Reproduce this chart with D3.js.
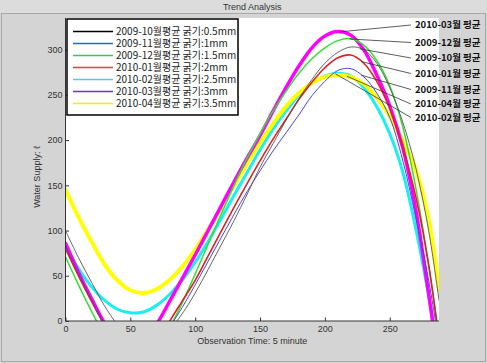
<!DOCTYPE html>
<html><head><meta charset="utf-8">
<script src="https://cdn.jsdelivr.net/npm/d3@7"></script>
<style>
html,body{margin:0;padding:0;background:#d4d4d4;}
svg{display:block;}
</style></head>
<body>
<svg id="chart" width="487" height="363"></svg>
<script>
// ---------- DATA ----------
const xValues = [0,10,20,30,40,50,60,70,80,90,100,110,120,130,140,150,160,170,180,190,200,210,220,230,240,250,260,270,280,288];
const s2009_10 = [100,70,43,17,-4,-20,-26,-22,-10,8,31,57,84,111,140,170,196,222,246,267,285,297,303,300,285,258,220,170,100,23];
const s2009_11 = [84,53,24,-3,-25,-38,-38,-25,-7,15,40,66,92,118,143,166,188,208,228,249,265,277,279,270,252,225,178,115,45,-25];
const s2009_12 = [71,40,11,-16,-38,-50,-47,-32,-8,20,52,85,118,150,180,207,232,254,274,290,302,310,312,305,288,260,215,148,62,-20];
const s2010_01 = [80,50,22,-4,-25,-38,-38,-25,-1,22,45,72,99,126,152,177,201,223,245,264,280,291,294,285,265,235,192,138,62,-20];
const s2010_02 = [82,58,38,23,13,9,10,17,29,45,65,88,113,139,164,189,212,232,250,263,271,274,271,258,237,207,165,103,28,-40];
const s2010_03 = [86,54,25,-2,-22,-30,-22,-4,21,47,73,100,127,154,180,205,232,258,282,302,315,320,316,300,272,238,192,124,30,-50];
const s2010_04 = [145,115,88,63,45,34,31,35,45,60,79,101,125,150,174,197,218,237,252,263,270,272,270,262,247,226,199,168,112,34];

const legendLabels = ["2009-10월평균 굵기:0.5mm","2009-11월평균 굵기:1mm","2009-12월평균 굵기:1.5mm","2010-01월평균 굵기:2mm","2010-02월평균 굵기:2.5mm","2010-03월평균 굵기:3mm","2010-04월평균 굵기:3.5mm"];
const seriesValues = [s2009_10,s2009_11,s2009_12,s2010_01,s2010_02,s2010_03,s2010_04];

const xTicks = [0,50,100,150,200,250];
const yTicks = [0,50,100,150,200,250,300];

const annotLabels = ["2010-03월 평균","2009-12월 평균","2009-10월 평균","2010-01월 평균","2009-11월 평균","2010-04월 평균","2010-02월 평균"];
const annotSeries = [5,2,0,3,1,6,4];
const annotAtX = [211,219,227,228,228,217,208];

const titleText = "Trend Analysis";
const xLabel = "Observation Time: 5 minute";
const yLabel = "Water Supply: ℓ";

// ---------- STYLES / LAYOUT ----------
const legendColors = ["#000000","#1f6fbf","#3cc060","#f03838","#5cc4e8","#6a3ab8","#f2f200"];
const plotColors   = ["#555555","#4848e0","#33e033","#e02020","#18f0f0","#ff00ff","#ffff00"];
const plotWidths   = [0.9,1,1.5,1.6,3,3.5,4];
const drawOrder    = [4,6,5,2,3,1,0];
const annotY = [25,42.5,58,73.5,89.5,104,117.5];

const W = 487, H = 363;
const m = {left:65.5, right:439, top:18, bottom:321};

const svg = d3.select("#chart");

// figure background
svg.append("rect").attr("x",0).attr("y",0).attr("width",W).attr("height",H).attr("fill","#d4d4d4");
svg.append("rect").attr("x",0).attr("y",0).attr("width",W).attr("height",13).attr("fill","#dcdcdc");
svg.append("line").attr("x1",2).attr("x2",W-2).attr("y1",13.5).attr("y2",13.5).attr("stroke","#bdbdbd");
svg.append("rect").attr("x",1.5).attr("y",13.5).attr("width",W-3).attr("height",H-15).attr("fill","none").attr("stroke","#a8a8a8");

svg.append("text").attr("x",(m.left+m.right)/2).attr("y",9.5)
  .attr("text-anchor","middle").attr("font-family","Liberation Sans, Arial, sans-serif")
  .attr("font-size",9).attr("fill","#333").text(titleText);

const x = d3.scaleLinear().domain([0,288]).range([m.left,m.right]);
const y = d3.scaleLinear().domain([0,335]).range([m.bottom,m.top]);

// axes background
svg.append("rect").attr("x",m.left).attr("y",m.top).attr("width",m.right-m.left).attr("height",m.bottom-m.top).attr("fill","#fff");

svg.append("defs").append("clipPath").attr("id","clip")
  .append("rect").attr("x",m.left).attr("y",m.top).attr("width",m.right-m.left).attr("height",m.bottom-m.top);

const line = d3.line().x((d,i)=>x(xValues[i])).y(d=>y(d)).curve(d3.curveCatmullRom.alpha(0.5));

const gLines = svg.append("g").attr("clip-path","url(#clip)");
drawOrder.forEach(k=>{
  gLines.append("path").datum(seriesValues[k]).attr("d",line)
    .attr("fill","none").attr("stroke",plotColors[k]).attr("stroke-width",plotWidths[k])
    .attr("stroke-linejoin","round").attr("stroke-linecap","round");
});

// axes
const fontAxis = "Liberation Sans, Arial, sans-serif";
const gx = svg.append("g").attr("transform",`translate(0,${m.bottom})`)
  .call(d3.axisBottom(x).tickValues(xTicks).tickSizeInner(-3.5).tickSizeOuter(0).tickPadding(5));
const gy = svg.append("g").attr("transform",`translate(${m.left},0)`)
  .call(d3.axisLeft(y).tickValues(yTicks).tickSizeInner(-3.5).tickSizeOuter(0).tickPadding(3));
[gx,gy].forEach(g=>{
  g.select(".domain").remove();
  g.selectAll(".tick line").attr("stroke","#333");
  g.selectAll("text").attr("font-family",fontAxis).attr("font-size",9).attr("fill","#333");
});
svg.append("line").attr("x1",m.left).attr("x2",m.left).attr("y1",m.top).attr("y2",m.bottom).attr("stroke","#333");
svg.append("line").attr("x1",m.left).attr("x2",m.right).attr("y1",m.bottom).attr("y2",m.bottom).attr("stroke","#333");

svg.append("text").attr("x",(m.left+m.right)/2).attr("y",344)
  .attr("text-anchor","middle").attr("font-family",fontAxis).attr("font-size",9).attr("fill","#333").text(xLabel);
svg.append("text").attr("transform","translate(40,177) rotate(-90)")
  .attr("text-anchor","middle").attr("font-family",fontAxis).attr("font-size",9).attr("fill","#333").text(yLabel);

// legend
const lg = svg.append("g");
lg.append("rect").attr("x",67).attr("y",19).attr("width",171).attr("height",96)
  .attr("fill","#fff").attr("stroke","#000").attr("stroke-width",1.5);
legendLabels.forEach((lab,i)=>{
  const yy = 31.5 + i*12;
  lg.append("line").attr("x1",73).attr("x2",113).attr("y1",yy).attr("y2",yy)
    .attr("stroke",legendColors[i]).attr("stroke-width",1.3);
  lg.append("text").attr("x",116).attr("y",yy).attr("dy","0.35em")
    .attr("font-family","Noto Sans CJK KR, sans-serif").attr("font-size",10).attr("fill","#222").text(lab);
});

// annotations
function valueAt(arr, xv){
  const i = d3.bisectRight(xValues, xv) - 1;
  const j = Math.min(i+1, xValues.length-1);
  const t = (xv - xValues[i])/((xValues[j]-xValues[i])||1);
  return arr[i] + t*(arr[j]-arr[i]);
}
annotLabels.forEach((lab,i)=>{
  const k = annotSeries[i];
  const xv = annotAtX[i];
  const vy = valueAt(seriesValues[k], xv);
  svg.append("line").attr("x1",x(xv)).attr("y1",y(vy)).attr("x2",411).attr("y2",annotY[i])
    .attr("stroke","#333").attr("stroke-width",0.8);
  svg.append("text").attr("x",415).attr("y",annotY[i]).attr("dy","0.35em")
    .attr("font-family","Noto Sans CJK KR, sans-serif").attr("font-weight","bold")
    .attr("font-size",9.5).attr("fill","#111").text(lab);
});
</script>
</body></html>
